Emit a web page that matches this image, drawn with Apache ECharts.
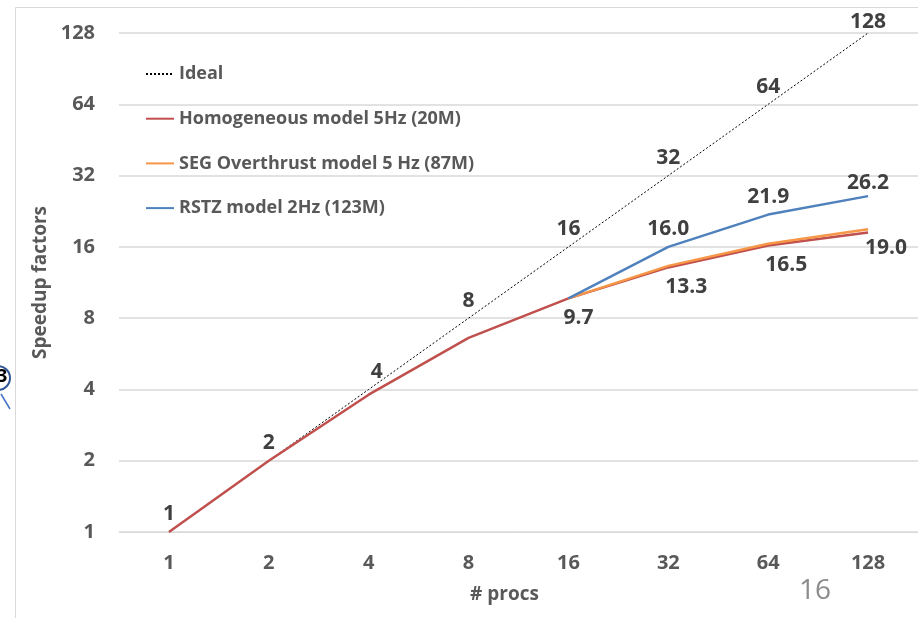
<!DOCTYPE html>
<html>
<head>
<meta charset="utf-8">
<script src="https://cdn.jsdelivr.net/npm/echarts@6/dist/echarts.min.js"></script>
<style>
html,body{margin:0;padding:0;background:#fff;}
#c{width:918px;height:618px;}
</style>
</head>
<body>
<div id="c"></div>
<script>
const procs = ['1','2','4','8','16','32','64','128'];
const yTicks = [1,2,4,8,16,32,64,128];
const idealVals = [1,2,4,8,16,32,64,128];
const homogVals = [1,2,3.8,6.6,9.7,13.1,16.2,18.4];
const segVals = [null,null,null,null,9.7,13.3,16.5,19.0];
const rstzVals = [null,null,null,null,9.7,16.0,21.9,26.2];
const names = ['Ideal','Homogeneous model 5Hz (20M)','SEG Overthrust model 5 Hz (87M)','RSTZ model 2Hz (123M)'];

const FONT = 'Open Sans';
const lblStyle = {fontFamily: FONT, fontWeight: 'bold', fontSize: 21, color: '#404040'};

const chart = echarts.init(document.getElementById('c'));

const idealData = idealVals.map((v,i)=>({value:v, label:{show:true, position:'top', distance: i===7?0:7, offset:[i===2?8:0,0]}}));
const segData = segVals.map((v,i)=>{
  if(v===null) return null;
  return {value:v, label:{show:true, position:'bottom', distance: i===7?8:(i===4?9:11), offset:[i===4?10:18,0], formatter: (p)=>Number(p.value).toFixed(1)}};
});
const rstzData = rstzVals.map((v,i)=>{
  if(v===null) return null;
  return {value:v, label:{show:i>4, position:'top', distance: i===7?3:7, formatter:(p)=>Number(p.value).toFixed(1)}};
});

const common = {type:'line', symbol:'circle', symbolSize:0.1, showSymbol:true};

chart.setOption({
  animation:false,
  backgroundColor:'#fff',
  grid:{left:119, top:33, width:800, height:499},
  legend:{
    orient:'vertical', left:140, top:60, itemWidth:28, itemHeight:14, itemGap:26.7,
    itemStyle:{opacity:0},
    textStyle:{fontFamily:FONT, fontWeight:'bold', fontSize:18, color:'#595959'},
    data:names
  },
  xAxis:{
    type:'category', data:procs, boundaryGap:true,
    axisLine:{show:true, lineStyle:{color:'#d9d9d9'}},
    axisTick:{show:false},
    axisLabel:{fontFamily:FONT, fontWeight:'bold', fontSize:20, color:'#595959', margin:21},
    name:'# procs', nameLocation:'middle', nameGap:53,
    nameTextStyle:{fontFamily:FONT, fontWeight:'bold', fontSize:19, color:'#595959', padding:[0,28,0,0]}
  },
  yAxis:{
    type:'log', logBase:2, min:1, max:128,
    axisLine:{show:false}, axisTick:{show:false},
    splitLine:{lineStyle:{color:'#d9d9d9', width:1.5}},
    axisLabel:{fontFamily:FONT, fontWeight:'bold', fontSize:20, color:'#595959', margin:24,
      formatter:(v)=> yTicks.indexOf(Math.round(v))>=0 ? String(Math.round(v)) : ''},
    name:'Speedup factors', nameLocation:'middle', nameGap:68, nameRotate:90,
    nameTextStyle:{fontFamily:FONT, fontWeight:'bold', fontSize:19, color:'#595959'}
  },
  series:[
    Object.assign({}, common, {name:names[0], data:idealData, z:2,
      lineStyle:{color:'#000', width:1, type:[2,2]}, itemStyle:{color:'#000'}, label:lblStyle}),
    Object.assign({}, common, {name:names[1], data:homogVals, z:3,
      lineStyle:{color:'#c0504d', width:2.5}, itemStyle:{color:'#c0504d'}}),
    Object.assign({}, common, {name:names[2], data:segData, z:4,
      lineStyle:{color:'#f79646', width:2.5}, itemStyle:{color:'#f79646'}, label:lblStyle}),
    Object.assign({}, common, {name:names[3], data:rstzData, z:5,
      lineStyle:{color:'#4f81bd', width:2.5}, itemStyle:{color:'#4f81bd'}, label:lblStyle})
  ],
  graphic:[
    {type:'line', shape:{x1:15.5,y1:7.5,x2:918,y2:7.5}, style:{stroke:'#d9d9d9', lineWidth:1}},
    {type:'line', shape:{x1:15.5,y1:7.5,x2:15.5,y2:618}, style:{stroke:'#d9d9d9', lineWidth:1}},
    {type:'circle', shape:{cx:-2, cy:378, r:12}, style:{fill:'#fff', stroke:'#2f5597', lineWidth:2}},
    {type:'text', left:-3, top:368, style:{text:'3', font:'bold 18px '+FONT, fill:'#000'}},
    {type:'line', shape:{x1:1,y1:394,x2:10,y2:409}, style:{stroke:'#4472c4', lineWidth:1.5}},
    {type:'text', left:799, top:577, style:{text:'16', font:'28px '+FONT, fill:'#8c8c8c'}}
  ]
});
</script>
</body>
</html>
